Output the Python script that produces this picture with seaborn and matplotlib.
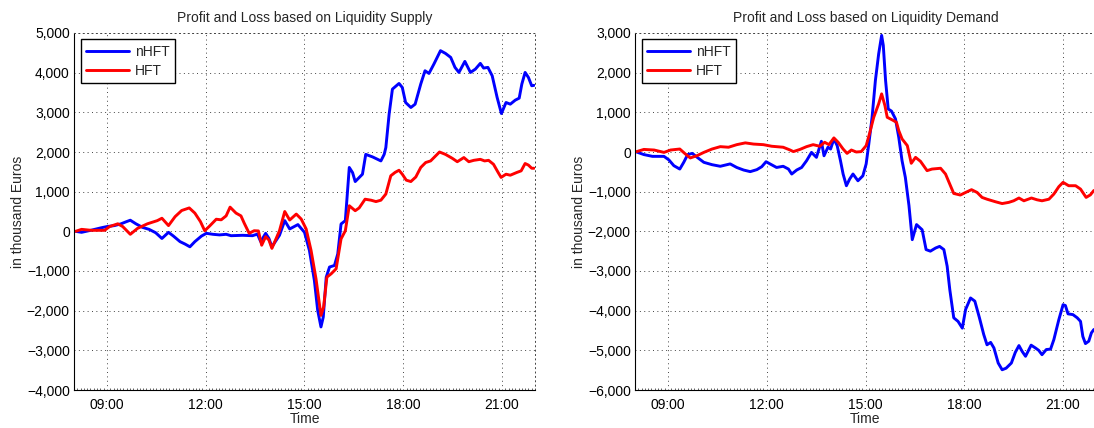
import matplotlib
matplotlib.use("Agg")
import matplotlib.pyplot as plt
import matplotlib.ticker as mticker
import numpy as np
import pandas as pd
import seaborn as sns

# Intraday profit and loss (thousand EUR), time in decimal hours
supply_nhft_t = [8.05, 8.23, 8.53, 8.83, 9.00, 9.23, 9.43, 9.58, 9.71, 9.88, 10.08, 10.28, 10.48, 10.67,
                 10.87, 11.02, 11.22, 11.37, 11.52, 11.67, 11.87, 12.02, 12.22, 12.42, 12.62, 12.77, 13.12,
                 13.42, 13.57, 13.67, 13.82, 13.92, 14.01, 14.24, 14.40, 14.55, 14.80, 15.00, 15.15, 15.30,
                 15.40, 15.50, 15.57, 15.66, 15.76, 15.91, 16.01, 16.11, 16.24, 16.36, 16.46, 16.54, 16.76,
                 16.86, 17.07, 17.22, 17.32, 17.42, 17.47, 17.57, 17.67, 17.87, 17.97, 18.07, 18.23, 18.36,
                 18.53, 18.66, 18.78, 18.93, 19.13, 19.28, 19.44, 19.57, 19.69, 19.87, 20.04, 20.19, 20.34,
                 20.44, 20.57, 20.70, 20.85, 20.98, 21.12, 21.25, 21.40, 21.52, 21.60, 21.70, 21.80, 21.90,
                 21.97]
supply_nhft_v = [0, -25, 30, 90, 120, 145, 190, 240, 280, 190, 100, 50, -35, -180,
                 -25, -120, -260, -320, -390, -260, -120, -50, -75, -90, -75, -110, -100,
                 -110, -70, -260, -50, -180, -390, -100, 270, 60, 170, -25, -485, -1240,
                 -1990, -2410, -2160, -1155, -900, -860, -570, 185, 270, 1610, 1480, 1255, 1440,
                 1940, 1875, 1815, 1775, 1940, 2111, 2954, 3585, 3728, 3627, 3248, 3122, 3206,
                 3712, 4048, 3981, 4217, 4554, 4486, 4385, 4133, 4006, 4284, 4006, 4090, 4234,
                 4116, 4133, 3922, 3375, 2970, 3248, 3206, 3307, 3358, 3712, 4006, 3880, 3670,
                 3680]

supply_hft_t = [8.05, 8.23, 8.53, 8.93, 9.08, 9.33, 9.48, 9.71, 9.93, 10.23, 10.53, 10.67, 10.87, 11.07,
                11.27, 11.50, 11.67, 11.84, 11.97, 12.12, 12.32, 12.47, 12.62, 12.74, 12.92, 13.07, 13.17,
                13.32, 13.47, 13.60, 13.70, 13.82, 13.92, 14.01, 14.24, 14.40, 14.55, 14.75, 14.90, 15.05,
                15.20, 15.35, 15.50, 15.58, 15.68, 15.81, 15.96, 16.11, 16.24, 16.36, 16.54, 16.66, 16.84,
                17.02, 17.17, 17.32, 17.47, 17.62, 17.75, 17.87, 17.97, 18.09, 18.23, 18.38, 18.53, 18.68,
                18.83, 18.98, 19.10, 19.28, 19.49, 19.64, 19.84, 19.99, 20.14, 20.34, 20.47, 20.59, 20.74,
                20.88, 20.97, 21.12, 21.25, 21.45, 21.58, 21.70, 21.80, 21.90, 21.97]
supply_hft_v = [0, 50, 25, 25, 120, 190, 120, -75, 75, 190, 270, 330, 145, 370,
                525, 590, 460, 245, 15, 135, 305, 290, 390, 610, 460, 390, 205,
                -50, 15, 10, -350, -135, -220, -430, 15, 500, 285, 435, 310, 60,
                -485, -1200, -2120, -1910, -1155, -1070, -945, -190, 15, 645, 520, 590, 810,
                785, 750, 785, 940, 1400, 1485, 1540, 1440, 1290, 1255, 1370, 1610, 1735,
                1775, 1900, 2000, 1940, 1840, 1755, 1860, 1755, 1790, 1815, 1775, 1790, 1690,
                1485, 1360, 1440, 1415, 1485, 1525, 1710, 1670, 1590, 1590]

demand_nhft_t = [8.05, 8.27, 8.53, 8.88, 9.03, 9.18, 9.36, 9.48, 9.60, 9.74, 9.89, 10.09, 10.34, 10.59,
                 10.89, 11.09, 11.30, 11.50, 11.70, 11.85, 11.98, 12.10, 12.30, 12.50, 12.66, 12.76, 12.91,
                 13.06, 13.21, 13.36, 13.51, 13.66, 13.74, 13.86, 13.94, 14.04, 14.14, 14.24, 14.32, 14.42,
                 14.52, 14.62, 14.77, 14.92, 15.02, 15.10, 15.20, 15.30, 15.40, 15.49, 15.54, 15.61, 15.69,
                 15.79, 15.91, 16.01, 16.11, 16.21, 16.32, 16.42, 16.55, 16.72, 16.84, 16.97, 17.13, 17.25,
                 17.38, 17.48, 17.56, 17.68, 17.81, 17.94, 18.04, 18.19, 18.32, 18.46, 18.59, 18.69, 18.80,
                 18.90, 19.03, 19.15, 19.27, 19.43, 19.55, 19.66, 19.76, 19.86, 20.03, 20.16, 20.26, 20.36,
                 20.49, 20.62, 20.72, 20.87, 21.00, 21.07, 21.15, 21.30, 21.43, 21.53, 21.60, 21.68, 21.78,
                 21.86, 21.93, 22.00]
demand_nhft_v = [0, -65, -110, -110, -200, -345, -430, -260, -65, -35, -135, -260, -320, -360,
                 -300, -390, -455, -495, -445, -370, -245, -300, -390, -360, -430, -555, -455,
                 -390, -220, -10, -135, 270, -95, 120, 75, 330, 160, -220, -555, -850,
                 -680, -555, -725, -600, -300, 200, 875, 1800, 2475, 2940, 2690, 1800, 1085,
                 1030, 835, 370, -220, -640, -1350, -2210, -1830, -1960, -2460, -2500, -2420, -2380,
                 -2460, -2880, -3470, -4180, -4270, -4440, -3970, -3680, -3760, -4180, -4600, -4860, -4800,
                 -4940, -5320, -5490, -5450, -5320, -5050, -4880, -5030, -5150, -4870, -4940, -5000, -5110,
                 -4980, -4970, -4730, -4230, -3850, -3870, -4080, -4100, -4180, -4270, -4650, -4830, -4770,
                 -4560, -4480, -4450]

demand_hft_t = [8.05, 8.27, 8.58, 8.88, 9.08, 9.36, 9.53, 9.68, 9.89, 10.09, 10.34, 10.59, 10.84, 11.09,
                11.35, 11.60, 11.90, 12.15, 12.50, 12.71, 12.81, 13.01, 13.21, 13.41, 13.61, 13.76, 13.89,
                14.04, 14.17, 14.32, 14.44, 14.57, 14.72, 14.87, 15.02, 15.12, 15.25, 15.40, 15.49, 15.59,
                15.66, 15.81, 15.94, 16.01, 16.11, 16.27, 16.39, 16.52, 16.67, 16.87, 17.02, 17.28, 17.43,
                17.58, 17.68, 17.88, 18.04, 18.22, 18.39, 18.54, 18.69, 18.95, 19.15, 19.35, 19.50, 19.66,
                19.81, 20.04, 20.21, 20.36, 20.57, 20.72, 20.87, 21.00, 21.17, 21.38, 21.53, 21.70, 21.83,
                21.93, 22.00]
demand_hft_v = [10, 65, 50, -10, 50, 75, -50, -150, -90, -10, 75, 135, 120, 185,
                230, 200, 185, 145, 120, 50, 10, 65, 135, 185, 145, 245, 185,
                355, 245, 75, -35, 50, 0, 10, 160, 455, 875, 1215, 1465, 1170,
                875, 810, 750, 540, 330, 160, -285, -135, -235, -470, -430, -410, -555,
                -850, -1045, -1085, -1020, -950, -1020, -1145, -1190, -1255, -1300, -1270, -1230, -1160,
                -1230, -1160, -1205, -1230, -1190, -1060, -875, -765, -850, -850, -935, -1145, -1080,
                -975, -950]

titles = ["Profit and Loss based on Liquidity Supply", "Profit and Loss based on Liquidity Demand"]
series_names = ["nHFT", "HFT"]
time_ticks = [9, 12, 15, 18, 21]
time_tick_labels = ["09:00", "12:00", "15:00", "18:00", "21:00"]
supply_yticks = list(range(-4000, 5001, 1000))
demand_yticks = list(range(-6000, 3001, 1000))


def frame(nt, nv, ht, hv):
    a = pd.DataFrame({"time": nt, "pnl": nv, "group": series_names[0]})
    b = pd.DataFrame({"time": ht, "pnl": hv, "group": series_names[1]})
    return pd.concat([a, b], ignore_index=True)


sns.set_theme(style="white")
plt.rcParams["font.family"] = ["Liberation Sans", "DejaVu Sans"]
plt.rcParams["axes.unicode_minus"] = True

fig = plt.figure(figsize=(10.94, 4.28), dpi=100)
ax_l = fig.add_axes([74 / 1094, 38 / 428, 461 / 1094, 357 / 428])
ax_r = fig.add_axes([635 / 1094, 38 / 428, 461 / 1094, 357 / 428])

palette = {"nHFT": (0, 0, 1), "HFT": (1, 0, 0)}
panels = [
    (ax_l, frame(supply_nhft_t, supply_nhft_v, supply_hft_t, supply_hft_v), titles[0], supply_yticks),
    (ax_r, frame(demand_nhft_t, demand_nhft_v, demand_hft_t, demand_hft_v), titles[1], demand_yticks),
]

def thousands(v, pos):
    s = f"{abs(int(round(v))):,}"
    return ("\u2212" + s) if v < 0 else s

for ax, df, title, yt in panels:
    sns.lineplot(data=df, x="time", y="pnl", hue="group", palette=palette,
                 hue_order=series_names, linewidth=2.1, ax=ax, sort=False,
                 estimator=None)
    ax.set_xlim(8.0, 22.0)
    ax.set_ylim(yt[0], yt[-1])
    ax.set_xticks(time_ticks)
    ax.set_xticklabels(time_tick_labels)
    ax.set_yticks(yt)
    ax.yaxis.set_major_formatter(mticker.FuncFormatter(thousands))
    ax.xaxis.set_minor_locator(mticker.MultipleLocator(0.1))
    ax.tick_params(axis="both", which="major", direction="in", length=4, width=0.6,
                   labelsize=10, colors="black")
    ax.tick_params(axis="x", which="major", pad=6)
    ax.tick_params(axis="y", which="major", pad=3)
    ax.tick_params(axis="x", which="minor", direction="in", length=1.5, width=0.5,
                   bottom=True)
    ax.grid(True, which="major", linestyle=(0, (1, 3.5)), linewidth=0.7, color="#444444")
    for side in ("left", "bottom"):
        ax.spines[side].set_color("black")
        ax.spines[side].set_linewidth(0.8)
    for side in ("top", "right"):
        ax.spines[side].set_color("#444444")
        ax.spines[side].set_linewidth(0.7)
        ax.spines[side].set_linestyle((0, (1, 3.5)))
    ax.set_title(title, fontsize=10, pad=8)
    ax.set_xlabel("Time", fontsize=10, labelpad=0)
    ax.set_ylabel("in thousand Euros", fontsize=10, labelpad=1)
    handles, labels = ax.get_legend_handles_labels()
    leg = ax.legend(handles, labels, loc="upper left", bbox_to_anchor=(0.0145, 0.982),
                    borderaxespad=0, fontsize=10, handlelength=3.1, handletextpad=0.4,
                    labelspacing=0.35, borderpad=0.4, fancybox=False, framealpha=1,
                    edgecolor="black")
    leg.get_frame().set_linewidth(1.0)
    for ln in leg.get_lines():
        ln.set_linewidth(2.1)

fig.savefig("out.png", dpi=100)
